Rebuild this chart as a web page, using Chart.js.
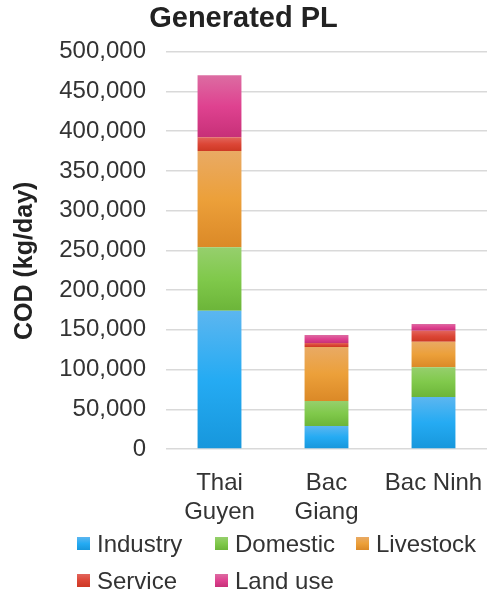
<!DOCTYPE html>
<html>
<head>
<meta charset="utf-8">
<script src="https://cdn.jsdelivr.net/npm/chart.js@4"></script>
<style>
  html, body { margin: 0; padding: 0; background: #fff; }
  #wrap { width: 489px; height: 595px; }
</style>
</head>
<body>
<div id="wrap"><canvas id="myChart" width="489" height="595"></canvas></div>
<script>
const provinces = [["Thai", "Guyen"], ["Bac", "Giang"], "Bac Ninh"];
const seriesNames = ["Industry", "Domestic", "Livestock", "Service", "Land use"];
const industry = [174000, 29000, 65500];
const domestic = [80000, 31500, 37500];
const livestock = [121000, 68000, 32000];
const service = [17500, 5000, 14000];
const landUse = [78000, 10000, 8500];
const yTicks = [0, 50000, 100000, 150000, 200000, 250000, 300000, 350000, 400000, 450000, 500000];

// top / middle / bottom shades for the excel-like gradient
const shades = [
  ["#5cb6f0", "#25abf3", "#1797dc"],
  ["#96cf6d", "#80c94b", "#6cb539"],
  ["#e9aa64", "#eca03a", "#db8927"],
  ["#e2655c", "#dc4636", "#cd3824"],
  ["#dc6ca2", "#df4290", "#c73078"]
];

function makeGradient(ctx, top, bottom, s) {
  let g = ctx.createLinearGradient(0, top, 0, bottom);
  g.addColorStop(0, s[0]);
  g.addColorStop(0.5, s[1]);
  g.addColorStop(1, s[2]);
  return g;
}

const gradientBars = {
  id: "gradientBars",
  beforeDatasetsDraw(chart) {
    const ctx = chart.ctx;
    chart.data.datasets.forEach((ds, i) => {
      chart.getDatasetMeta(i).data.forEach(el => {
        el.options.backgroundColor = makeGradient(ctx, el.y, el.base, shades[i]);
      });
    });
  }
};

const gridLegend = {
  id: "gridLegend",
  afterDraw(chart) {
    const ctx = chart.ctx;
    const cols = [77, 215, 356];
    const rows = [544, 581];
    ctx.save();
    ctx.font = "24px 'Liberation Sans', Arial, sans-serif";
    ctx.textBaseline = "middle";
    chart.data.datasets.forEach((ds, i) => {
      let x = cols[i % 3];
      let y = rows[Math.floor(i / 3)];
      ctx.fillStyle = makeGradient(ctx, y - 7, y + 6, shades[i]);
      ctx.fillRect(x, y - 7, 13, 13);
      ctx.fillStyle = "#333";
      ctx.fillText(ds.label, x + 20, y + 1);
    });
    ctx.restore();
  }
};

const data = {
  labels: provinces,
  datasets: [
    { label: seriesNames[0], data: industry },
    { label: seriesNames[1], data: domestic },
    { label: seriesNames[2], data: livestock },
    { label: seriesNames[3], data: service },
    { label: seriesNames[4], data: landUse }
  ].map((d, i) => Object.assign(d, {
    // scriptable so every bar gets its own options object
    backgroundColor: c => shades[c.datasetIndex][1],
    borderWidth: 0,
    categoryPercentage: 1,
    barPercentage: 0.41
  }))
};

const config = {
  type: "bar",
  data: data,
  plugins: [gradientBars, gridLegend],
  options: {
    responsive: false,
    animation: false,
    layout: { padding: { left: 0, right: 2, top: 0, bottom: 51 } },
    plugins: {
      legend: { display: false },
      tooltip: { enabled: false },
      title: {
        display: true,
        text: "Generated PL",
        color: "#222",
        font: { family: "'Liberation Sans', Arial, sans-serif", size: 29, weight: "bold" },
        padding: { top: 2, bottom: 15 }
      }
    },
    scales: {
      x: {
        stacked: true,
        clip: false,
        grid: { display: false },
        border: { display: false },
        ticks: {
          color: "#333",
          padding: 12,
          font: { family: "'Liberation Sans', Arial, sans-serif", size: 24, lineHeight: 1.2 }
        },
        afterFit(scale) {
          scale.height = 95;
          scale.paddingLeft = 0;
          scale.paddingRight = 0;
        }
      },
      y: {
        stacked: true,
        min: 0,
        max: 500000,
        afterBuildTicks(scale) { scale.ticks = yTicks.map(v => ({ value: v })); },
        grid: { color: "#d9d9d9", lineWidth: 1.5, drawTicks: false },
        border: { display: false },
        ticks: {
          color: "#333",
          padding: 20,
          font: { family: "'Liberation Sans', Arial, sans-serif", size: 24 },
          callback: v => v.toLocaleString("en-US")
        },
        title: {
          display: true,
          // trailing spaces nudge the rotated title a bit lower, like the original
          text: "COD (kg/day)   ",
          color: "#222",
          padding: { top: 10, bottom: 0 },
          font: { family: "'Liberation Sans', Arial, sans-serif", size: 25, weight: "bold" }
        },
        afterFit(scale) { scale.width = 166; }
      }
    }
  }
};

let ctx = document.getElementById("myChart").getContext("2d");
new Chart(ctx, config);
</script>
</body>
</html>
